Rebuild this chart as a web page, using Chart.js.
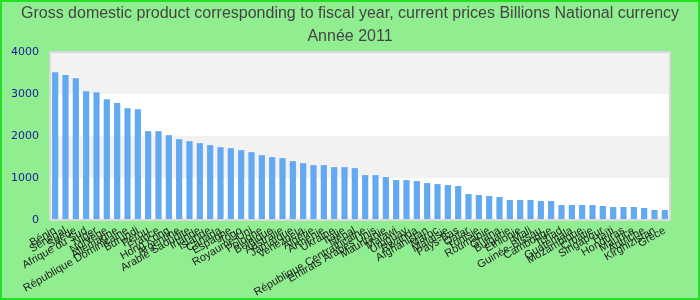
<!DOCTYPE html>
<html>
<head>
<meta charset="utf-8">
<script src="https://cdn.jsdelivr.net/npm/chart.js@4"></script>
<style>
  html, body { margin: 0; padding: 0; background: #90ee90; }
  canvas { display: block; }
</style>
</head>
<body>
<canvas id="chart" width="700" height="300"></canvas>
<script>
// ====== DATA ======
const TITLE = [
  "Gross domestic product corresponding to fiscal year, current prices Billions National currency",
  "Année 2011",
];

const countries = [
  "Bénin", "Sénégal", "Suède", "Afrique du Sud", "Niger", "Norvège",
  "Allemagne", "République Dominicaine", "Burundi", "Pérou", "France", "Hong Kong",
  "Argentine", "Arabie Saoudite", "Irlande", "Islande", "Canada", "Espagne",
  "Togo", "Royaume-Uni", "Pologne", "Belgique", "Australie", "Jamaïque",
  "Venezuela", "Algérie", "Arménie", "Ukraine", "Italie", "Népal",
  "République Centrafricaine", "Emirats Arabes Unis", "Mauritanie", "Malawi", "Uruguay", "Rwanda",
  "Afghanistan", "Maroc", "Malaisie", "Pays-Bas", "Qatar", "Tunisie",
  "Roumanie", "Ghana", "Bulgarie", "Ethiopie", "Mali", "Guinée-Bissau",
  "Cambodge", "Tchad", "Guatemala", "Mozambique", "Croatie", "Singapour",
  "Haïti", "Honduras", "Maurice", "Autriche", "Kirghizistan", "Grèce",
];

const gdp = [
  3516, 3453, 3374, 3065, 3041, 2875,
  2788, 2661, 2637, 2115, 2115, 2020,
  1925, 1877, 1830, 1782, 1734, 1711,
  1663, 1616, 1544, 1497, 1473, 1402,
  1354, 1307, 1307, 1259, 1259, 1235,
  1069, 1069, 1022, 950, 950, 927,
  879, 855, 832, 808, 618, 594,
  570, 546, 475, 475, 475, 451,
  451, 356, 356, 356, 356, 333,
  309, 309, 309, 285, 238, 238,
];

const Y_MIN = 0;
const Y_MAX = 4000;
const Y_STEP = 1000;
// ==================

// alternating bands behind the bars + frame of the plot area
const bandsPlugin = {
  id: "bands",
  beforeDatasetsDraw(chart) {
    const { ctx, chartArea: a, scales: { y } } = chart;
    ctx.save();
    ctx.fillStyle = "#ffffff";
    ctx.fillRect(a.left, a.top, a.right - a.left, a.bottom - a.top);
    ctx.fillStyle = "#f2f2f2";
    for (let v = Y_MIN; v < Y_MAX; v += Y_STEP) {
      if ((v / Y_STEP) % 2 === 1) {
        const top = y.getPixelForValue(v + Y_STEP);
        const bottom = y.getPixelForValue(v);
        ctx.fillRect(a.left, top, a.right - a.left, bottom - top);
      }
    }
    ctx.restore();
  },
  afterDraw(chart) {
    const { ctx, chartArea: a, width, height } = chart;
    ctx.save();
    ctx.strokeStyle = "#d9d9d9";
    ctx.lineWidth = 2;
    ctx.strokeRect(a.left, a.top, a.right - a.left, a.bottom - a.top);
    // outer page frame
    ctx.strokeStyle = "#22e022";
    ctx.lineWidth = 2;
    ctx.strokeRect(1, 1, width - 2, height - 2);
    ctx.restore();
  },
};

new Chart(document.getElementById("chart"), {
  type: "bar",
  data: {
    labels: countries,
    datasets: [
      {
        data: gdp,
        backgroundColor: "#63a9f2",
        borderWidth: 0,
        categoryPercentage: 1,
        barPercentage: 0.6,
      },
    ],
  },
  options: {
    responsive: false,
    animation: false,
    layout: { padding: 0 },
    plugins: {
      legend: { display: false },
      tooltip: { enabled: false },
      title: {
        display: true,
        text: TITLE,
        color: "#444444",
        font: { family: "'Liberation Sans', Arial, sans-serif", size: 16, weight: "normal", lineHeight: 1.4375 },
        padding: { top: 2, bottom: 4 },
      },
    },
    scales: {
      x: {
        grid: { display: false, drawTicks: false },
        border: { display: false },
        ticks: {
          autoSkip: false,
          minRotation: 30,
          maxRotation: 30,
          padding: 4,
          color: "#222222",
          font: { family: "'Liberation Sans', Arial, sans-serif", size: 11 },
        },
        afterFit(scale) { scale.height = 80; },
      },
      y: {
        min: Y_MIN,
        max: Y_MAX,
        grid: { display: false, drawTicks: false },
        border: { display: false },
        ticks: {
          stepSize: Y_STEP,
          padding: 11,
          color: "#1a1a9c",
          font: { family: "'DejaVu Sans', sans-serif", size: 11 },
          callback: (v) => String(v),
        },
        afterFit(scale) { scale.width = 50; },
      },
      // empty right-hand axis: reserves the right margin so the title stays centred
      yRight: {
        position: "right",
        min: Y_MIN,
        max: Y_MAX,
        grid: { display: false, drawTicks: false },
        border: { display: false },
        ticks: { display: false },
        afterFit(scale) { scale.width = 30; },
      },
    },
  },
  plugins: [bandsPlugin],
});
</script>
</body>
</html>
